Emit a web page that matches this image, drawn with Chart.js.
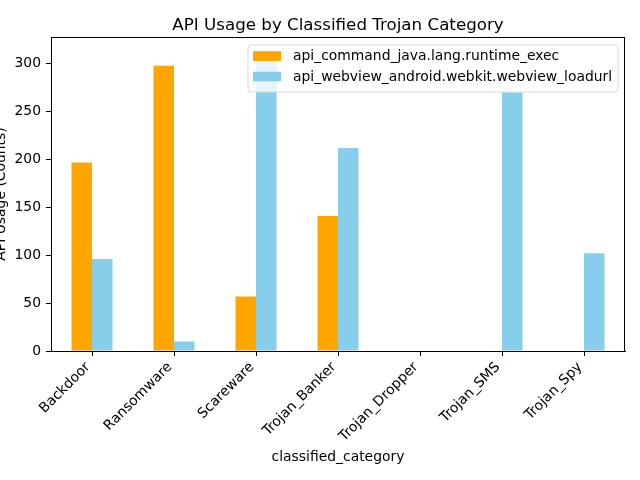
<!DOCTYPE html>
<html><head><meta charset="utf-8">
<script src="https://cdn.jsdelivr.net/npm/chart.js@4"></script>
<style>html,body{margin:0;padding:0;background:#fff}#c{display:block}</style>
</head><body>
<canvas id="c" width="640" height="480"></canvas>
<script>
const categories = ["Backdoor","Ransomware","Scareware","Trojan_Banker","Trojan_Dropper","Trojan_SMS","Trojan_Spy"];
const runtimeExec = [197, 298, 57, 141, 0, 0, 0];
const webviewLoadUrl = [96, 10, 312, 212, 0, 270, 102];
const yTicks = [0, 50, 100, 150, 200, 250, 300];
const seriesNames = ["api_command_java.lang.runtime_exec","api_webview_android.webkit.webview_loadurl"];
const chartTitle = "API Usage by Classified Trojan Category";
const colors = ["#FFA500", "#87CEEB"];
const FONT = "'DejaVu Sans', sans-serif";

const frame = {
  id: 'frame',
  afterDatasetsDraw(chart) {
    const a = chart.chartArea, ctx = chart.ctx;
    ctx.save();
    ctx.strokeStyle = '#000'; ctx.lineWidth = 1;
    ctx.strokeRect(Math.round(a.left) + 0.5, Math.round(a.top) + 0.5, Math.round(a.right - a.left) - 1, Math.round(a.bottom - a.top));
    // title centred over the plot area
    ctx.fillStyle = '#000';
    ctx.font = "16.7px " + FONT;
    ctx.textAlign = 'center'; ctx.textBaseline = 'alphabetic';
    ctx.fillText(chartTitle, (a.left + a.right) / 2, 29.5);
    // legend
    const x0 = 248, y0 = 45, w = 370, h = 47;
    ctx.fillStyle = 'rgba(255,255,255,0.8)';
    ctx.strokeStyle = '#d9d9d9';
    const r = 3;
    ctx.beginPath();
    ctx.moveTo(x0 + r, y0); ctx.lineTo(x0 + w - r, y0); ctx.quadraticCurveTo(x0 + w, y0, x0 + w, y0 + r);
    ctx.lineTo(x0 + w, y0 + h - r); ctx.quadraticCurveTo(x0 + w, y0 + h, x0 + w - r, y0 + h);
    ctx.lineTo(x0 + r, y0 + h); ctx.quadraticCurveTo(x0, y0 + h, x0, y0 + h - r);
    ctx.lineTo(x0, y0 + r); ctx.quadraticCurveTo(x0, y0, x0 + r, y0);
    ctx.closePath(); ctx.fill(); ctx.stroke();
    ctx.font = "13.9px " + FONT;
    ctx.textBaseline = 'middle'; ctx.textAlign = 'left';
    seriesNames.forEach((n, i) => {
      const cy = 56 + i * 20.5;
      ctx.fillStyle = colors[i];
      ctx.fillRect(253, cy - 4.8, 28, 9.7);
      ctx.fillStyle = '#000';
      ctx.fillText(n, 293, cy + 0.5);
    });
    ctx.restore();
  }
};

new Chart(document.getElementById('c'), {
  type: 'bar',
  data: {
    labels: categories,
    datasets: [
      { label: seriesNames[0], data: runtimeExec, backgroundColor: colors[0], categoryPercentage: 0.5, barPercentage: 1.0 },
      { label: seriesNames[1], data: webviewLoadUrl, backgroundColor: colors[1], categoryPercentage: 0.5, barPercentage: 1.0 }
    ]
  },
  options: {
    responsive: false, animation: false,
    layout: { padding: { left: 0, right: 15, top: 37, bottom: 0 } },
    plugins: {
      legend: { display: false },
      tooltip: { enabled: false },
      title: { display: false }
    },
    scales: {
      x: {
        grid: { drawOnChartArea: false, drawTicks: true, tickLength: 5, color: '#000', offset: false },
        border: { display: true, color: '#000' },
        ticks: { color: '#000', font: { family: FONT, size: 13.9 }, maxRotation: 45, minRotation: 45, padding: 3, autoSkip: false, labelOffset: -4 },
        title: { display: true, text: "classified_category", color: '#000', font: { family: FONT, size: 13.9 }, padding: { top: 4, bottom: 14 } },
        afterFit(s) { s.height = 129; }
      },
      y: {
        min: 0, max: 328,
        afterBuildTicks(s) { s.ticks = yTicks.map(v => ({ value: v })); },
        grid: { drawOnChartArea: false, drawTicks: true, tickLength: 5, color: '#000' },
        border: { display: true, color: '#000' },
        ticks: { color: '#000', font: { family: FONT, size: 13.9 }, padding: 5 },
        title: { display: true, text: "API Usage (Counts)", color: '#000', font: { family: FONT, size: 13.9 }, padding: { top: -7, bottom: 0 } },
        afterFit(s) { s.width = 51; }
      }
    }
  },
  plugins: [frame]
});
</script>
</body></html>
